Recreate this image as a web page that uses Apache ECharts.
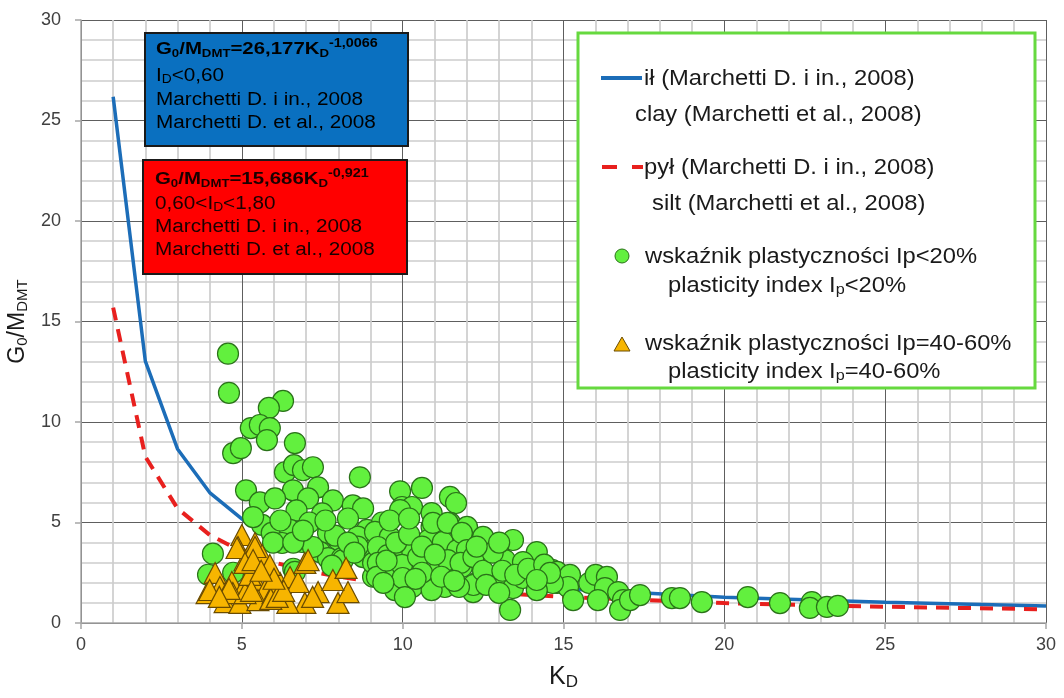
<!DOCTYPE html>
<html>
<head>
<meta charset="utf-8">
<title>G0/MDMT – KD</title>
<script src="https://cdn.jsdelivr.net/npm/echarts@6/dist/echarts.min.js"></script>
<style>
  html, body { margin: 0; padding: 0; background: #fff; }
  #chart { width: 1064px; height: 698px; }
</style>
</head>
<body>
<div id="chart"></div>
<script>
// Horizontal dilatometer index KD at which the correlation curves are tabulated
const curveKD = [1, 2, 3, 4, 5, 6, 7, 8, 9, 10, 12, 15, 20, 25, 30];
// Clay: G0/MDMT = 26,177 KD^-1,0066 (ID < 0,60)
const clayRatio = [26.18, 13.03, 8.66, 6.49, 5.18, 4.31, 3.69, 3.23, 2.87, 2.58, 2.15, 1.71, 1.28, 1.03, 0.85];
// Silt: G0/MDMT = 15,686 KD^-0,921 (0,60 < ID < 1,80)
const siltRatio = [15.69, 8.28, 5.70, 4.38, 3.56, 3.01, 2.61, 2.31, 2.07, 1.88, 1.59, 1.30, 0.99, 0.81, 0.68];

// Measured points, [KD, G0/MDMT], plasticity index Ip < 20%
const lowPlasticity = [
  [4.57, 13.4], [4.60, 11.45], [6.28, 11.05], [5.84, 10.7], [5.28, 9.7], [5.56, 9.85], [5.87, 9.7],
  [5.78, 9.1], [6.65, 8.95], [4.73, 8.45], [4.97, 8.7], [6.34, 7.5], [6.62, 7.85], [6.9, 7.6],
  [7.21, 7.75], [8.67, 7.25], [5.13, 6.6], [6.59, 6.6], [7.37, 6.75], [5.56, 6.0], [6.03, 6.2],
  [7.06, 6.2], [7.83, 6.1], [8.45, 5.85], [8.77, 5.7], [6.7, 5.6], [7.5, 5.45], [5.63, 4.88],
  [5.35, 5.27], [5.93, 4.48], [6.5, 4.63], [6.87, 4.03], [6.25, 3.98], [7.68, 4.48], [8.0, 4.13],
  [7.43, 3.53], [7.68, 3.23], [8.11, 3.23], [8.89, 4.63], [9.14, 4.38], [8.77, 3.98], [9.2, 3.63],
  [8.77, 3.28], [9.23, 2.88], [9.08, 2.3], [9.36, 5.0], [4.1, 3.45], [3.95, 2.4], [6.6, 2.7],
  [4.73, 2.5], [5.97, 4.0], [7.21, 3.78], [6.6, 4.0], [7.9, 4.35], [8.14, 3.13], [7.8, 2.85],
  [8.6, 4.3], [8.6, 3.8], [9.08, 2.99], [9.6, 2.79], [9.76, 1.64], [10.3, 1.79], [6.65, 2.54],
  [9.92, 6.55], [10.6, 6.72], [11.47, 6.27], [11.66, 5.97], [9.98, 5.77], [10.29, 5.77], [9.92, 5.62],
  [10.9, 5.47], [10.9, 4.78], [11.47, 4.98], [12.0, 4.78], [11.87, 4.28], [12.5, 4.28], [13.43, 4.13],
  [14.17, 3.53], [9.14, 4.53], [9.6, 4.28], [9.23, 3.78], [9.54, 3.38], [10.0, 3.78], [10.3, 3.53],
  [10.8, 4.13], [11.25, 4.03], [11.7, 3.63], [10.44, 2.99], [9.98, 2.89], [9.23, 2.99], [11.16, 2.74],
  [11.84, 2.79], [12.4, 3.13], [12.96, 3.78], [13.18, 3.13], [13.74, 3.03], [12.96, 2.34], [12.34, 2.04],
  [11.47, 2.49], [10.85, 2.04], [10.0, 2.24], [9.2, 2.29], [10.07, 1.29], [11.31, 1.79], [12.19, 1.54],
  [13.43, 1.74], [14.2, 1.74], [13.74, 2.24], [14.8, 1.99], [14.64, 2.64], [13.34, 0.65], [15.1, 1.89],
  [10.48, 3.28], [10.94, 4.98], [11.4, 4.98], [11.84, 4.48], [12.0, 3.63], [11.4, 3.13], [11.8, 2.99],
  [12.2, 3.28], [12.2, 1.89], [11.75, 1.79], [10.9, 1.64], [9.5, 3.1], [9.8, 4.0], [10.2, 4.4],
  [10.6, 3.8], [10.6, 2.5], [11.0, 3.4], [11.2, 2.3], [11.6, 2.1], [12.5, 2.6], [12.8, 3.5],
  [13.1, 2.6], [13.5, 2.4], [13.9, 2.7], [14.4, 2.9], [12.6, 1.9], [13.0, 1.5], [9.4, 2.0],
  [10.4, 2.2], [7.1, 5.0], [7.6, 5.1], [8.3, 5.2], [6.2, 5.1], [6.9, 4.6], [8.3, 4.0],
  [8.5, 3.5], [9.6, 5.1], [10.2, 5.2], [12.3, 3.8], [13.0, 4.0],
  [14.8, 2.54], [15.2, 2.39], [15.14, 1.79], [14.67, 1.99], [15.3, 1.14], [15.8, 1.99], [16.0, 2.39],
  [16.35, 2.29], [16.29, 1.74], [16.07, 1.14], [16.7, 1.54], [16.85, 1.14], [16.76, 0.65], [17.07, 1.14],
  [17.38, 1.39], [18.37, 1.24], [18.62, 1.24], [19.3, 1.04], [20.73, 1.29], [21.73, 0.99], [22.72, 1.04],
  [22.66, 0.75], [23.19, 0.8], [23.53, 0.85], [14.58, 2.49], [14.17, 1.64], [14.17, 2.14]
];

// Measured points, [KD, G0/MDMT], plasticity index Ip = 40-60%
const highPlasticity = [
  [5.0, 4.38], [4.88, 3.78], [5.41, 3.98], [5.1, 3.13], [5.41, 3.13], [5.63, 3.38], [5.87, 2.79],
  [4.17, 2.49], [4.32, 1.79], [3.92, 1.49], [4.69, 2.04], [5.1, 1.89], [5.41, 2.14], [5.72, 1.64],
  [6.19, 1.99], [6.5, 2.29], [6.75, 2.04], [6.96, 2.99], [7.06, 3.13], [7.37, 1.54], [6.96, 1.0],
  [6.43, 1.0], [7.99, 1.0], [8.3, 1.54], [7.83, 2.14], [8.24, 2.74], [4.48, 1.04], [4.94, 1.0],
  [5.5, 1.14], [4.0, 1.64], [4.72, 1.49], [5.1, 1.49], [5.97, 1.49], [5.25, 2.39], [4.85, 3.73],
  [5.41, 3.78], [5.1, 2.99], [5.87, 2.89], [5.35, 3.13], [5.9, 1.2], [6.1, 1.3], [5.3, 1.6],
  [6.3, 1.6], [4.6, 1.7], [7.2, 1.3], [6.0, 2.2], [5.6, 2.6], [4.3, 1.3]
];

// Axis ticks
const xTicks = { min: 0, max: 30, step: 5 };
const yTicks = { min: 0, max: 30, step: 5 };

const FONT = 'Liberation Sans, Arial, sans-serif';
const CLAY_BLUE = '#1c6db8';
const SILT_RED = '#e8201e';
const DOT_GREEN = '#62f03e';
const DOT_EDGE = '#2a7219';
const TRI_FILL = '#f7b500';
const TRI_EDGE = '#6b4c00';

const names = {
  clay: 'ił (Marchetti D. i in., 2008)',
  silt: 'pył (Marchetti D. i in., 2008)',
  low: 'wskaźnik plastyczności Ip<20%',
  high: 'wskaźnik plastyczności Ip=40-60%'
};

function zip(xs, ys) { return xs.map((x, i) => [x, ys[i]]); }

const chart = echarts.init(document.getElementById('chart'), null, { renderer: 'canvas' });

function axisCommon(t) {
  return {
    type: 'value',
    min: t.min, max: t.max, interval: t.step,
    axisLine: { show: true, lineStyle: { color: '#a6a6a6', width: 1.5 } },
    axisTick: { show: true, length: 6, lineStyle: { color: '#a6a6a6', width: 1.5 } },
    minorTick: { show: false, splitNumber: 5 },
    splitLine: { show: true, lineStyle: { color: '#5e5e5e', width: 1 } },
    minorSplitLine: { show: true, lineStyle: { color: '#cdcdcd', width: 1.7 } },
    axisLabel: { fontFamily: FONT, fontSize: 18, color: '#404040' }
  };
}

// Text helpers for the annotation boxes and the legend panel
function txt(x, y, text, size, sx, fill, extra) {
  return {
    type: 'text', x: x, y: y, scaleX: sx, z: 100,
    style: Object.assign({ text: text, fontFamily: FONT, fontSize: size, fill: fill, align: 'left', verticalAlign: 'middle' }, extra || {})
  };
}
function eqRich(fill) {
  return {
    fill: fill,
    rich: {
      b: { fontFamily: FONT, fontSize: 17, fontWeight: 'bold', fill: fill },
      bs: { fontFamily: FONT, fontSize: 11, fontWeight: 'bold', fill: fill, padding: [9, 0, 0, 0] },
      bp: { fontFamily: FONT, fontSize: 12, fontWeight: 'bold', fill: fill, padding: [0, 0, 10, 0] }
    }
  };
}
function subRich(fill, size, subSize) {
  return {
    fill: fill,
    rich: {
      n: { fontFamily: FONT, fontSize: size, fill: fill },
      s: { fontFamily: FONT, fontSize: subSize, fill: fill, padding: [8, 0, 0, 0] }
    }
  };
}

const boxText = '#000000';
const redText = '#1a0000';

const graphics = [
  // clay correlation box
  { type: 'rect', z: 90, shape: { x: 145, y: 33, width: 263, height: 113 },
    style: { fill: '#0a70c0', stroke: '#1a1a1a', lineWidth: 2 } },
  txt(156, 49, '{b|G}{bs|0}{b|/M}{bs|DMT}{b|=26,177K}{bs|D}{bp|-1,0066}', 17, 1.2, boxText, eqRich(boxText)),
  txt(156, 76, '{n|I}{s|D}{n|<0,60}', 18, 1.15, boxText, subRich(boxText, 18, 12)),
  txt(156, 100, 'Marchetti D. i in., 2008', 18, 1.15, boxText),
  txt(156, 123, 'Marchetti D. et al., 2008', 18, 1.15, boxText),
  // silt correlation box
  { type: 'rect', z: 90, shape: { x: 143, y: 160, width: 264, height: 114 },
    style: { fill: '#ff0000', stroke: '#1a1a1a', lineWidth: 2 } },
  txt(155, 179, '{b|G}{bs|0}{b|/M}{bs|DMT}{b|=15,686K}{bs|D}{bp|-0,921}', 17, 1.2, redText, eqRich(redText)),
  txt(155, 204, '{n|0,60<I}{s|D}{n|<1,80}', 18, 1.15, redText, subRich(redText, 18, 12)),
  txt(155, 227, 'Marchetti D. i in., 2008', 18, 1.15, redText),
  txt(155, 250, 'Marchetti D. et al., 2008', 18, 1.15, redText),
  // legend panel
  { type: 'rect', z: 90, shape: { x: 578, y: 33, width: 457, height: 355 },
    style: { fill: '#ffffff', stroke: '#66d93f', lineWidth: 3 } },
  { type: 'line', z: 100, shape: { x1: 601, y1: 78, x2: 642, y2: 78 },
    style: { stroke: CLAY_BLUE, lineWidth: 4 } },
  txt(644, 79, names.clay, 22, 1.08, '#1a1a1a'),
  txt(635, 115, 'clay (Marchetti et al., 2008)', 22, 1.08, '#1a1a1a'),
  { type: 'line', z: 100, shape: { x1: 602, y1: 167, x2: 643, y2: 167 },
    style: { stroke: SILT_RED, lineWidth: 4, lineDash: [15, 15] } },
  txt(644, 168, names.silt, 22, 1.08, '#1a1a1a'),
  txt(652, 204, 'silt (Marchetti et al., 2008)', 22, 1.08, '#1a1a1a'),
  { type: 'circle', z: 100, shape: { cx: 622, cy: 256, r: 7 },
    style: { fill: DOT_GREEN, stroke: DOT_EDGE, lineWidth: 1 } },
  txt(645, 257, names.low, 22, 1.08, '#1a1a1a'),
  txt(668, 286, '{n|plasticity index I}{s|p}{n|<20%}', 22, 1.08, '#1a1a1a', subRich('#1a1a1a', 22, 15)),
  { type: 'polygon', z: 100, shape: { points: [[622, 337], [630, 351], [614, 351]] },
    style: { fill: TRI_FILL, stroke: TRI_EDGE, lineWidth: 1 } },
  txt(645, 344, names.high, 22, 1.08, '#1a1a1a'),
  txt(668, 372, '{n|plasticity index I}{s|p}{n|=40-60%}', 22, 1.08, '#1a1a1a', subRich('#1a1a1a', 22, 15))
];

const option = {
  animation: false,
  backgroundColor: '#ffffff',
  grid: { left: 81, right: 18, top: 20, bottom: 75, outerBoundsMode: 'none', containLabel: false },
  xAxis: Object.assign(axisCommon(xTicks), {
    name: '{m|K}{s|D}',
    nameLocation: 'middle',
    nameGap: 41,
    nameTextStyle: {
      rich: {
        m: { fontFamily: FONT, fontSize: 25, color: '#1a1a1a' },
        s: { fontFamily: FONT, fontSize: 17, color: '#1a1a1a', padding: [10, 0, 0, 0] }
      }
    },
    axisLabel: { fontFamily: FONT, fontSize: 18, color: '#404040', margin: 13 }
  }),
  yAxis: Object.assign(axisCommon(yTicks), {
    name: '{m|G}{s|0}{m|/M}{s|DMT}',
    nameLocation: 'middle',
    nameGap: 41,
    nameTextStyle: {
      rich: {
        m: { fontFamily: FONT, fontSize: 23, color: '#1a1a1a' },
        s: { fontFamily: FONT, fontSize: 15, color: '#1a1a1a', padding: [10, 0, 0, 0] }
      }
    },
    axisLabel: { fontFamily: FONT, fontSize: 18, color: '#404040', margin: 20 }
  }),
  series: [
    {
      name: names.clay, type: 'line', data: zip(curveKD, clayRatio),
      symbol: 'none', smooth: false, z: 3,
      lineStyle: { color: CLAY_BLUE, width: 3.5 }
    },
    {
      name: names.silt, type: 'line', data: zip(curveKD, siltRatio),
      symbol: 'none', smooth: false, z: 3,
      lineStyle: { color: SILT_RED, width: 4, type: [13, 9] }
    },
    {
      name: names.low, type: 'scatter', data: lowPlasticity, z: 4,
      symbol: 'circle', symbolSize: 21,
      itemStyle: { color: DOT_GREEN, borderColor: DOT_EDGE, borderWidth: 1.2, opacity: 1 }
    },
    {
      name: names.high, type: 'scatter', data: highPlasticity, z: 5,
      symbol: 'triangle', symbolSize: [22, 21],
      itemStyle: { color: TRI_FILL, borderColor: TRI_EDGE, borderWidth: 1.2, opacity: 1 }
    }
  ],
  graphic: graphics
};

chart.setOption(option);
</script>
</body>
</html>
